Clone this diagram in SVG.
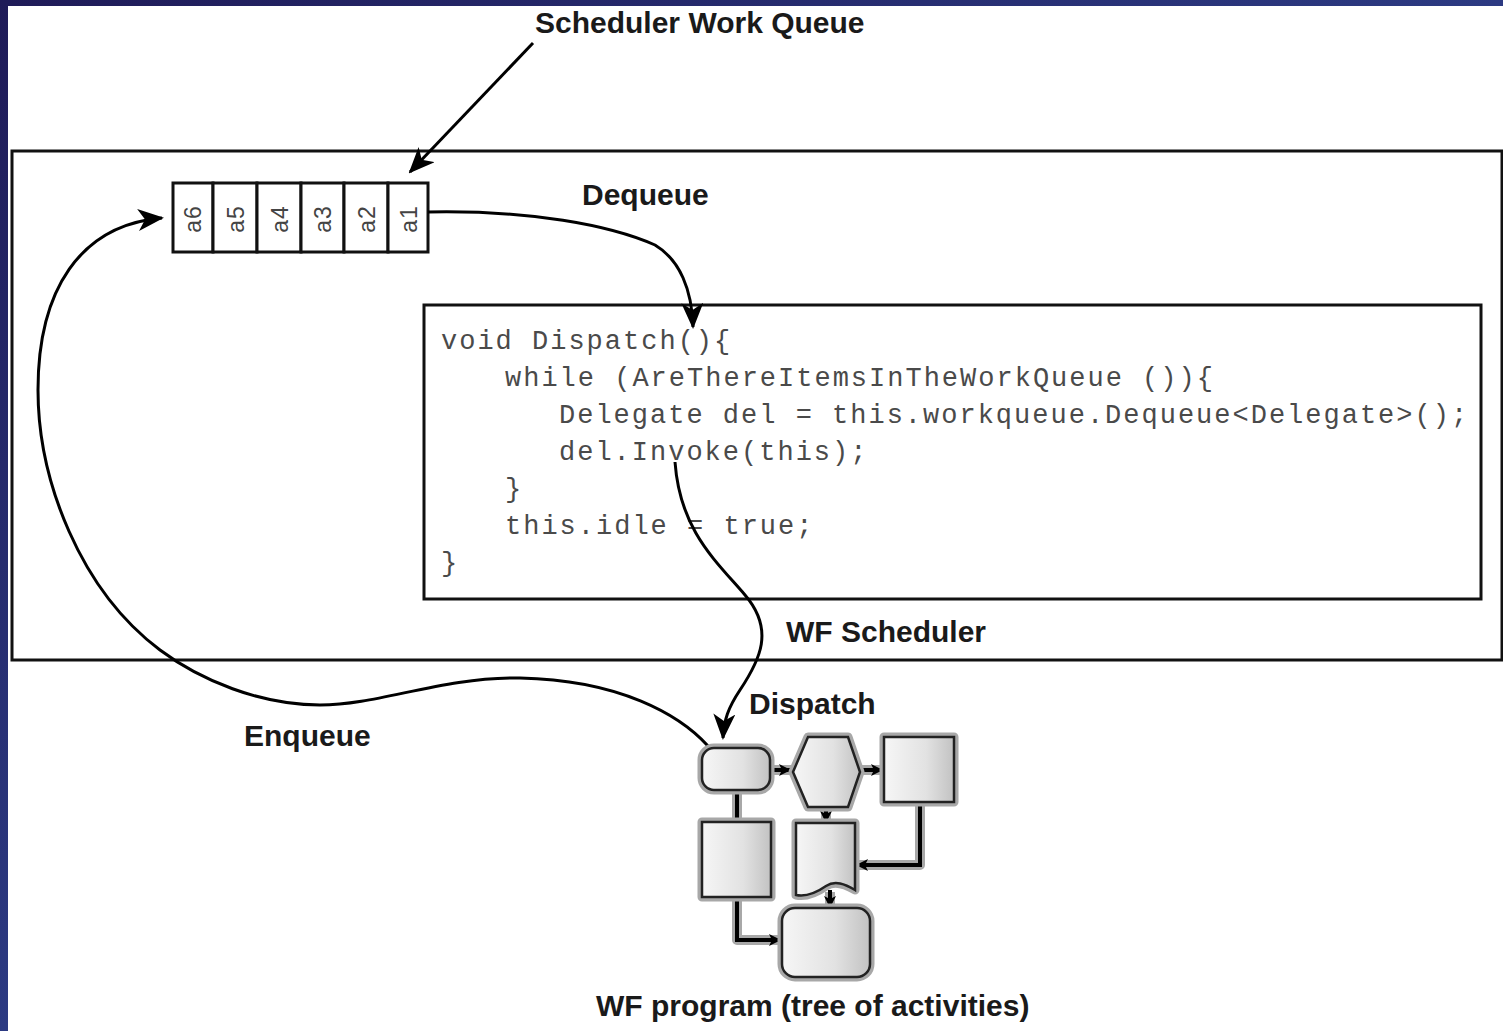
<svg xmlns="http://www.w3.org/2000/svg" width="1503" height="1031" viewBox="0 0 1503 1031">
  <defs>
    <linearGradient id="frame" x1="0" y1="0" x2="1" y2="1">
      <stop offset="0" stop-color="#1f1b58"/>
      <stop offset="0.5" stop-color="#2c3a82"/>
      <stop offset="1" stop-color="#2f4592"/>
    </linearGradient>
    <linearGradient id="shade" x1="0" y1="0" x2="1" y2="0">
      <stop offset="0" stop-color="#f6f6f6"/>
      <stop offset="0.6" stop-color="#e2e2e2"/>
      <stop offset="1" stop-color="#c2c2c2"/>
    </linearGradient>
    <marker id="arrow" markerUnits="userSpaceOnUse" viewBox="0 0 26 22" markerWidth="26" markerHeight="22" refX="24" refY="11" orient="auto">
      <path d="M0,0 L26,11 L0,22 L7,11 Z" fill="#000"/>
    </marker>
    <marker id="small" markerUnits="userSpaceOnUse" viewBox="0 0 12 12" markerWidth="12" markerHeight="12" refX="11" refY="6" orient="auto">
      <path d="M0,0 L12,6 L0,12 L3,6 Z" fill="#000"/>
    </marker>
  </defs>
  <style>
    .label { font-family: "Liberation Sans", Arial, sans-serif; font-weight: bold; font-size: 30px; fill: #1a1a1a; }
    .code { font-family: "Liberation Mono", "Courier New", monospace; font-size: 27px; letter-spacing: 2px; fill: #4a4a4a; }
    .cell { fill: #fff; stroke: #111; stroke-width: 3; }
    .cellText { font-family: "Liberation Sans", Arial, sans-serif; font-size: 23px; fill: #444; letter-spacing: 1px; }
    .box { fill: #fff; stroke: #111; stroke-width: 3; }
    .conn { fill: none; stroke: #000; stroke-width: 3; }
    .halo { fill: none; stroke: #a8a8a8; stroke-width: 10; stroke-linejoin: round; }
    .shape { fill: url(#shade); stroke: #222; stroke-width: 2.5; }
    .shapeHalo { fill: #b0b0b0; stroke: #a8a8a8; stroke-width: 9; stroke-linejoin: round; }
    .mini { fill: none; stroke: #000; stroke-width: 4; }
  </style>

  <rect x="0" y="0" width="1503" height="1031" fill="url(#frame)"/>
  <rect x="8" y="6" width="1495" height="1025" fill="#fff"/>

  <g id="scheduler">
    <rect class="box" x="12" y="151" width="1490" height="509"/>
    <text class="label" x="786" y="642">WF Scheduler</text>
  </g>

  <g id="work-queue">
    <rect class="cell" x="173" y="183" width="40" height="69"/>
    <rect class="cell" x="213" y="183" width="44" height="69"/>
    <rect class="cell" x="257" y="183" width="44" height="69"/>
    <rect class="cell" x="301" y="183" width="43" height="69"/>
    <rect class="cell" x="344" y="183" width="44" height="69"/>
    <rect class="cell" x="388" y="183" width="40" height="69"/>
    <text class="cellText" text-anchor="middle" transform="translate(201,219) rotate(-90)">a6</text>
    <text class="cellText" text-anchor="middle" transform="translate(244,219) rotate(-90)">a5</text>
    <text class="cellText" text-anchor="middle" transform="translate(288,219) rotate(-90)">a4</text>
    <text class="cellText" text-anchor="middle" transform="translate(331,219) rotate(-90)">a3</text>
    <text class="cellText" text-anchor="middle" transform="translate(375,219) rotate(-90)">a2</text>
    <text class="cellText" text-anchor="middle" transform="translate(417,219) rotate(-90)">a1</text>
  </g>

  <g id="dispatch-code">
    <rect class="box" x="424" y="305" width="1057" height="294"/>
    <text class="code" x="441" y="349">void Dispatch(){</text>
    <text class="code" x="505" y="386">while (AreThereItemsInTheWorkQueue ()){</text>
    <text class="code" x="559" y="423">Delegate del = this.workqueue.Dequeue&lt;Delegate&gt;();</text>
    <text class="code" x="559" y="460">del.Invoke(this);</text>
    <text class="code" x="505" y="497">}</text>
    <text class="code" x="505" y="534">this.idle = true;</text>
    <text class="code" x="441" y="571">}</text>
  </g>

  <g id="labels">
    <text id="lbl-queue" class="label" x="535" y="33">Scheduler Work Queue</text>
    <text id="lbl-dequeue" class="label" x="582" y="205">Dequeue</text>
    <text id="lbl-dispatch" class="label" x="749" y="714">Dispatch</text>
    <text id="lbl-enqueue" class="label" x="244" y="746">Enqueue</text>
    <text id="lbl-program" class="label" x="596" y="1016">WF program (tree of activities)</text>
  </g>

  <g id="connectors">
    <path class="conn" d="M533,43 L410,172" marker-end="url(#arrow)"/>
    <path class="conn" d="M428,212 C530,210 610,225 655,245 C680,260 692,290 693,327" marker-end="url(#arrow)"/>
    <path class="conn" d="M675,462 C680,530 715,560 745,595 C775,630 760,660 740,690 C728,708 724,720 723,738" marker-end="url(#arrow)"/>
    <path class="conn" d="M708,746 C680,715 620,680 520,678 C440,677 380,705 320,705 C260,705 200,680 160,650 C80,590 38,480 38,390 C38,290 80,225 162,218" marker-end="url(#arrow)"/>
  </g>

  <g id="wf-program">
    <g id="mini-connectors">
      <path class="halo" d="M770,770 H793 M860,770 H884 M737,790 V822 M826,807 V823 M920,802 V865 H855 M737,897 V940 H782 M830,892 V908"/>
      <path class="mini" d="M770,770 H790" marker-end="url(#small)"/>
      <path class="mini" d="M860,770 H882" marker-end="url(#small)"/>
      <path class="mini" d="M737,790 V822"/>
      <path class="mini" d="M826,807 V822" marker-end="url(#small)"/>
      <path class="mini" d="M920,802 V865 H857" marker-end="url(#small)"/>
      <path class="mini" d="M737,897 V940 H780" marker-end="url(#small)"/>
      <path class="mini" d="M830,890 V907" marker-end="url(#small)"/>
    </g>
    <g id="act-start">
      <rect class="shapeHalo" x="702" y="748" width="68" height="42" rx="12"/>
      <rect class="shape" x="702" y="748" width="68" height="42" rx="12"/>
    </g>
    <g id="act-hex">
      <polygon class="shapeHalo" points="793,772 808,737 848,737 860,772 848,807 808,807"/>
      <polygon class="shape" points="793,772 808,737 848,737 860,772 848,807 808,807"/>
    </g>
    <g id="act-square">
      <rect class="shapeHalo" x="884" y="737" width="70" height="65"/>
      <rect class="shape" x="884" y="737" width="70" height="65"/>
    </g>
    <g id="act-left">
      <rect class="shapeHalo" x="702" y="822" width="69" height="75"/>
      <rect class="shape" x="702" y="822" width="69" height="75"/>
    </g>
    <g id="act-doc">
      <path class="shapeHalo" d="M796,823 H855 V890 C845,884 835,880 826,886 C816,893 806,897 796,895 Z"/>
      <path class="shape" d="M796,823 H855 V890 C845,884 835,880 826,886 C816,893 806,897 796,895 Z"/>
    </g>
    <g id="act-end">
      <rect class="shapeHalo" x="782" y="908" width="88" height="69" rx="13"/>
      <rect class="shape" x="782" y="908" width="88" height="69" rx="13"/>
    </g>
  </g>
</svg>
